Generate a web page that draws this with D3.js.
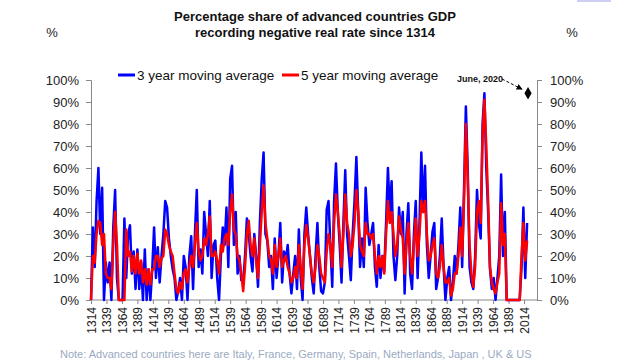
<!DOCTYPE html>
<html><head><meta charset="utf-8">
<script src="https://cdn.jsdelivr.net/npm/d3@7"></script>
<style>
body{margin:0;background:#fff;}
svg{display:block;font-family:"Liberation Sans",Arial,sans-serif;}
</style></head>
<body><svg id="c" width="640" height="360"></svg>
<script>
// ---- data ----
const firstYear = 1314;
const yearStep = 3;
const tickYears = [1314,1339,1364,1389,1414,1439,1464,1489,1514,1539,1564,1589,1614,1639,1664,1689,1714,1739,1764,1789,1814,1839,1864,1889,1914,1939,1964,1989,2014];
const yTicks = [0,10,20,30,40,50,60,70,80,90,100];
const ma3 = [0,33,15,45,60,30,51,0,17,8,17,0,33,50,10,0,0,0,37,10,30,34,12,22,5,23,5,17,0,23,0,14,0,14,33,10,24,8,20,30,45,
 42,28,20,14,10,0,4,10,0,20,15,0,20,29,5,30,50,15,23,12,40,30,20,45,10,25,27,10,0,20,33,25,42,15,55,61,25,40,12,20,
 9,8,20,37,30,20,13,30,20,6,35,55,67,30,27,15,20,5,28,10,20,35,8,22,18,25,12,3,12,20,5,32,10,0,30,42,30,20,10,3,20,35,
 15,4,3,8,41,45,25,6,45,62,40,25,8,35,59,30,20,9,30,45,65,40,15,28,15,51,35,25,30,35,15,6,25,10,20,13,35,60,40,54,
 20,9,20,42,30,40,3,30,44,12,5,30,45,10,35,67,40,61,25,10,20,31,35,5,10,20,37,15,0,10,15,0,8,20,12,25,42,15,50,88,60,15,
 8,5,20,50,35,28,80,94,60,40,14,5,10,0,10,20,57,20,40,0,0,0,0,0,0,0,0,15,42,10,35];
const ma5 = [0,20,17,30,36,35,25,30,12,10,10,5,25,40,25,0,0,0,0,32,20,22,13,20,12,21,12,18,8,14,7,14,7,14,14,20,20,15,19,20,32,
 30,25,22,20,12,5,3,8,5,12,14,8,15,20,15,25,35,22,18,20,28,25,30,38,20,20,22,18,12,25,22,28,30,25,40,48,32,30,20,18,
 12,4,15,30,36,25,20,28,18,10,25,40,52,35,28,20,18,12,25,15,20,28,15,18,20,15,12,8,10,15,10,25,15,5,25,34,28,20,12,8,15,25,
 20,12,10,8,22,30,25,15,35,48,40,30,15,30,48,35,30,20,25,35,50,40,25,22,20,35,30,30,28,30,20,12,20,15,20,12,30,45,35,40,
 30,20,25,38,32,28,12,25,35,20,12,25,37,20,30,45,40,45,30,18,20,25,28,12,10,15,25,15,8,8,10,2,5,12,12,20,33,20,45,80,55,25,
 12,6,15,40,45,35,75,91,70,45,15,8,5,3,8,12,44,25,30,0,0,0,0,0,0,0,0,20,35,18,27];
const latestLabel = "June, 2020";
const latestYear = 2020.5;
const latestValue = 94;

// ---- chart ----
const svg = d3.select("#c");
const x = d3.scaleLinear().domain([1314, 2035]).range([91, 537]);
const y = d3.scaleLinear().domain([0, 100]).range([300, 80]);
const years = ma3.map((_, i) => firstYear + i * yearStep);

svg.append("rect").attr("x",577).attr("y",0).attr("width",34).attr("height",2).attr("fill","#cfcff2");

// titles
const title = svg.append("text").attr("x",315).attr("text-anchor","middle")
  .attr("font-weight","bold").attr("font-size",13).attr("fill","#111");
title.append("tspan").attr("x",315).attr("y",21).text("Percentage share of advanced countries GDP");
title.append("tspan").attr("x",315).attr("y",37).text("recording negative real rate since 1314");
svg.append("text").attr("x",52).attr("y",37).attr("text-anchor","middle").attr("font-size",13).attr("fill","#222").text("%");
svg.append("text").attr("x",572).attr("y",37).attr("text-anchor","middle").attr("font-size",13).attr("fill","#222").text("%");

// axes
const fmt = d => d + "%";
const yl = svg.append("g").attr("transform","translate(91,0)")
  .call(d3.axisLeft(y).tickValues(yTicks).tickFormat(fmt).tickSize(5).tickPadding(7));
const yr = svg.append("g").attr("transform","translate(537,0)")
  .call(d3.axisRight(y).tickValues(yTicks).tickFormat(fmt).tickSize(5).tickPadding(8));
const xa = svg.append("g").attr("transform","translate(0,300)")
  .call(d3.axisBottom(x).tickValues(tickYears).tickFormat(d3.format("d")).tickSize(4).tickSizeOuter(0));
xa.select(".domain").attr("d","M91,0H537");
xa.selectAll("text").attr("transform","rotate(-90)").attr("text-anchor","end")
  .attr("x",-7).attr("y",0).attr("dy","0.35em").attr("font-size",12);
[yl, yr].forEach(g => g.selectAll("text").attr("font-size",13));
[yl, yr, xa].forEach(g => {
  g.selectAll("text").attr("fill","#222").attr("font-family","Liberation Sans, Arial, sans-serif");
  g.selectAll("line").attr("stroke","#888");
  g.select(".domain").attr("stroke","#888");
});

// lines
const line = d3.line().x((d, i) => x(years[i])).y(d => y(d));
svg.append("path").datum(ma3).attr("d", line).attr("fill","none")
  .attr("stroke","#0000ff").attr("stroke-width",2.5).attr("stroke-linejoin","round");
svg.append("path").datum(ma5).attr("d", line).attr("fill","none")
  .attr("stroke","#ff0000").attr("stroke-width",2.5).attr("stroke-linejoin","round");

// legend
const legend = [{label:"3 year moving average", color:"#0000ff", x:118},
                {label:"5 year moving average", color:"#ff0000", x:282}];
legend.forEach(l => {
  svg.append("line").attr("x1",l.x).attr("x2",l.x+17).attr("y1",75).attr("y2",75)
    .attr("stroke",l.color).attr("stroke-width",3);
  svg.append("text").attr("x",l.x+19).attr("y",80).attr("font-size",13.5).attr("fill","#111").text(l.label);
});

// annotation
svg.append("defs").append("marker").attr("id","ah").attr("viewBox","0 0 10 10")
  .attr("refX",9).attr("refY",5).attr("markerWidth",6).attr("markerHeight",6).attr("orient","auto")
  .append("path").attr("d","M0,0L10,5L0,10z").attr("fill","#000");
svg.append("text").attr("x",457).attr("y",82).attr("font-size",9).attr("font-weight","bold")
  .attr("fill","#111").text(latestLabel);
svg.append("line").attr("x1",502).attr("y1",79).attr("x2",x(latestYear)-6).attr("y2",y(latestValue)-4)
  .attr("stroke","#000").attr("stroke-width",1).attr("stroke-dasharray","3,2").attr("marker-end","url(#ah)");
svg.append("path").attr("d", d3.symbol(d3.symbolDiamond, 45)())
  .attr("transform",`translate(${x(latestYear)},${y(latestValue)})`).attr("fill","#000");

// note
svg.append("text").attr("x",60).attr("y",358).attr("font-size",11).attr("fill","#9aaac2")
  .text("Note: Advanced countries here are Italy, France, Germany, Spain, Netherlands, Japan , UK & US");
</script></body></html>
